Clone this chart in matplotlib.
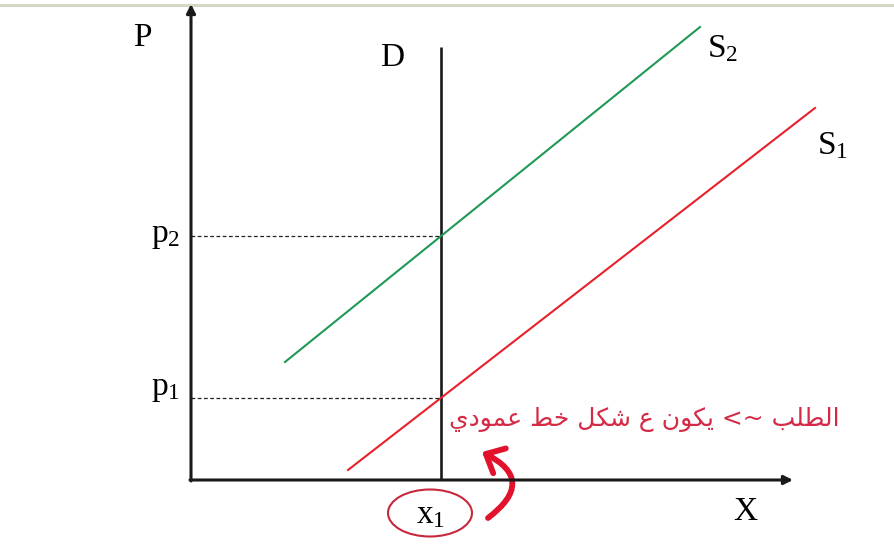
import numpy as np
import matplotlib.pyplot as plt
from matplotlib.patches import Ellipse, FancyArrowPatch

plt.rcParams['mathtext.fontset'] = 'custom'
plt.rcParams['mathtext.rm'] = 'Liberation Serif'
plt.rcParams['mathtext.it'] = 'Liberation Serif:italic'

# demand is fixed at x1, supply shifts from S1 up to S2
x1 = 5.0
d_top = 8.66
s1_x = [3.14, 12.48]
s1_y = [0.20, 7.44]
s2_x = [1.88, 10.18]
s2_y = [2.36, 9.06]
x_axis_end = 12.04
y_axis_end = 9.52

note = 'الطلب ~> يكون ع شكل خط عمودي'

# equilibrium prices where each supply line crosses the demand line
p1 = np.interp(x1, s1_x, s1_y)
p2 = np.interp(x1, s2_x, s2_y)

# arabic presentation forms: isolated, final, initial, medial
ARABIC_FORMS = {
    'ا': ('\ufe8d', '\ufe8e', None, None),
    'ب': ('\ufe8f', '\ufe90', '\ufe91', '\ufe92'),
    'خ': ('\ufea5', '\ufea6', '\ufea7', '\ufea8'),
    'د': ('\ufea9', '\ufeaa', None, None),
    'ش': ('\ufeb5', '\ufeb6', '\ufeb7', '\ufeb8'),
    'ط': ('\ufec1', '\ufec2', '\ufec3', '\ufec4'),
    'ع': ('\ufec9', '\ufeca', '\ufecb', '\ufecc'),
    'ك': ('\ufed9', '\ufeda', '\ufedb', '\ufedc'),
    'ل': ('\ufedd', '\ufede', '\ufedf', '\ufee0'),
    'م': ('\ufee1', '\ufee2', '\ufee3', '\ufee4'),
    'ن': ('\ufee5', '\ufee6', '\ufee7', '\ufee8'),
    'و': ('\ufeed', '\ufeee', None, None),
    'ي': ('\ufef1', '\ufef2', '\ufef3', '\ufef4'),
}
MIRROR = {'<': '>', '>': '<', '(': ')', ')': '('}


def shape_rtl(s):
    # matplotlib has no bidi/shaping, so pick glyph forms and reverse by hand
    out = []
    for i, ch in enumerate(s):
        forms = ARABIC_FORMS.get(ch)
        if forms is None:
            out.append(MIRROR.get(ch, ch))
            continue
        prev = ARABIC_FORMS.get(s[i - 1]) if i > 0 else None
        nxt = ARABIC_FORMS.get(s[i + 1]) if i + 1 < len(s) else None
        join_prev = prev is not None and prev[2] is not None
        join_next = forms[2] is not None and nxt is not None
        if join_prev and join_next:
            g = forms[3]
        elif join_prev:
            g = forms[1]
        elif join_next:
            g = forms[2]
        else:
            g = forms[0]
        out.append(g)
    return ''.join(reversed(out))


fig = plt.figure(figsize=(8.94, 5.5), dpi=100)
ax = fig.add_axes([0, 0, 1, 1])
ax.set_xlim(-3.82, 14.06)
ax.set_ylim(-1.4, 9.6)
ax.axis('off')

# thin rule along the top edge
ax.axhline(9.5, color='#d6d6c4', lw=2.2)

axis_kw = dict(arrowstyle='-|>', color='#1a1a1a', lw=2.2,
               mutation_scale=13, shrinkA=0, shrinkB=0)
ax.annotate('', xy=(0, y_axis_end), xytext=(0, -0.02), arrowprops=axis_kw)
ax.annotate('', xy=(x_axis_end, 0), xytext=(-0.02, 0), arrowprops=axis_kw)

# demand
ax.plot([x1, x1], [0, d_top], color='#1a1a1a', lw=1.9, solid_capstyle='butt')

# supply curves
ax.plot(s2_x, s2_y, color='#1f9a55', lw=1.5)
ax.plot(s1_x, s1_y, color='#e8202c', lw=1.5)

# price guides
for p in (p1, p2):
    ax.plot([0, x1], [p, p], color='#222222', lw=0.9, ls=(0, (3, 2)))

serif = 'Liberation Serif'
ax.text(-0.98, 8.84, 'P', fontsize=24, family=serif, ha='center', va='center')
ax.text(4.02, 8.44, 'D', fontsize=24, family=serif, ha='center', va='center')
ax.text(10.32, 8.64, r'$\mathrm{S}_2$', fontsize=24, ha='left', va='center')
ax.text(12.52, 6.70, r'$\mathrm{S}_1$', fontsize=24, ha='left', va='center')
ax.text(-0.22, p2 + 0.04, r'$\mathrm{p}_2$', fontsize=24, ha='right', va='center')
ax.text(-0.22, p1 + 0.2, r'$\mathrm{p}_1$', fontsize=24, ha='right', va='center')
ax.text(11.08, -0.64, 'X', fontsize=24, family=serif, ha='center', va='center')
ax.text(4.8, -0.68, r'$\mathrm{x}_1$', fontsize=24, ha='center', va='center')

# circled x1 and curved pointer
ax.add_patch(Ellipse((4.78, -0.66), 1.68, 0.94, fill=False,
                     edgecolor='#c8283c', lw=1.5))
ax.add_patch(FancyArrowPatch((5.94, -0.76), (5.82, 0.56),
                             connectionstyle='arc3,rad=0.8',
                             arrowstyle='->,head_length=0.55,head_width=0.5',
                             mutation_scale=20, color='#e3122c', lw=4.2,
                             shrinkA=0, shrinkB=0))

ax.text(12.98, 1.22, shape_rtl(note), fontsize=18, family='DejaVu Sans',
        color='#d42a46', ha='right', va='center')

fig.savefig('out.png', dpi=100)
